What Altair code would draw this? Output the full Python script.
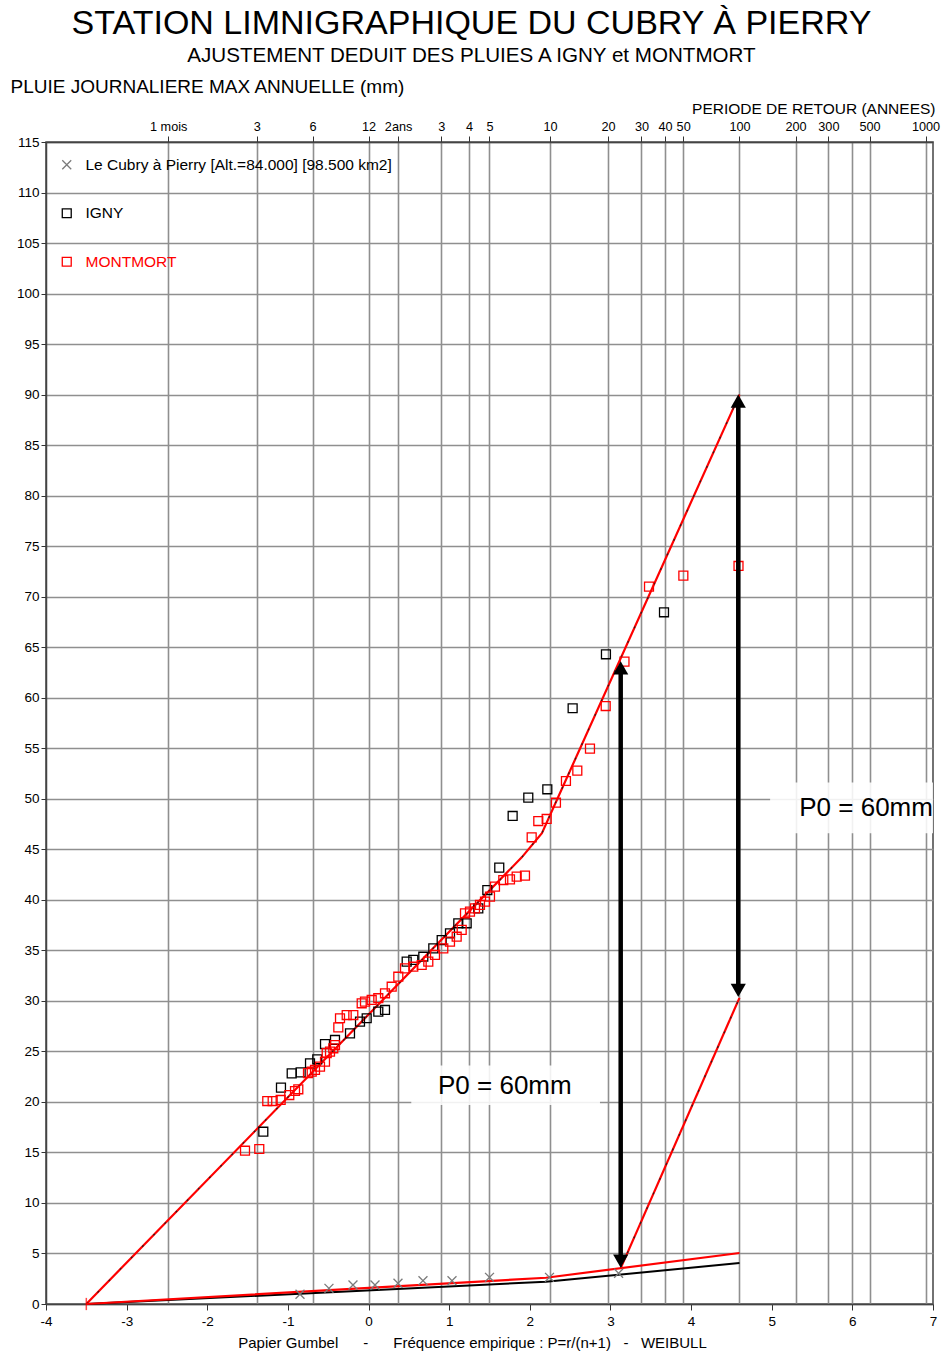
import math
import altair as alt
import pandas as pd

FONT = "Liberation Sans"
NB = "\u00a0"

TITLE = "STATION LIMNIGRAPHIQUE DU CUBRY À PIERRY"
SUBTITLE = "AJUSTEMENT DEDUIT DES PLUIES A IGNY et MONTMORT"
Y_TITLE = "PLUIE JOURNALIERE MAX ANNUELLE (mm)"
TOP_TITLE = "PERIODE DE RETOUR (ANNEES)"
X_TITLE = ("Papier Gumbel" + NB * 6 + "-" + NB * 6 + "Fréquence empirique : P=r/(n+1)"
           + NB * 3 + "-" + NB * 3 + "WEIBULL")

CUBRY = "Le Cubry à Pierry [Alt.=84.000] [98.500 km2]"
IGNY = "IGNY"
MONTMORT = "MONTMORT"

# axis ticks
y_ticks = list(range(0, 120, 5))
x_ticks = list(range(-4, 8))
month_periods = [1, 3, 6, 12]
month_labels = ["1 mois", "3", "6", "12"]
year_periods = [2, 3, 4, 5, 10, 20, 30, 40, 50, 100, 200, 300, 400, 500, 1000]
year_labels = ["2ans", "3", "4", "5", "10", "20", "30", "40", "50", "100", "200", "300", "", "500", "1000"]

# observed points (Gumbel reduced variate u, rainfall mm)
cubry_u = [-0.850, -0.491, -0.193, 0.080, 0.365, 0.675, 1.035, 1.500, 2.244, 3.101]
cubry_p = [0.96, 1.55, 1.88, 1.88, 2.05, 2.31, 2.31, 2.64, 2.64, 3.04]

igny_u = [-1.305, -1.086, -0.953, -0.842, -0.726, -0.636, -0.540, -0.416, -0.230, -0.106,
          -0.023, 0.121, 0.204, 0.473, 0.555, 0.679, 0.803, 0.907, 1.010, 1.113,
          1.217, 1.361, 1.473, 1.621, 1.787, 1.981, 2.217, 2.531, 2.944, 3.664]
igny_p = [17.05, 21.41, 22.83, 22.93, 23.82, 24.22, 25.73, 26.13, 26.79, 27.94,
          28.28, 28.93, 29.10, 33.88, 34.05, 34.37, 35.20, 36.02, 36.69, 37.68,
          37.68, 39.16, 40.97, 43.18, 48.30, 50.11, 50.94, 58.96, 64.30, 68.46]

montmort_u = [-1.532, -1.355, -1.256, -1.189, -1.090, -0.983, -0.912, -0.871, -0.751, -0.705,
              -0.664, -0.602, -0.540, -0.519, -0.478, -0.437, -0.416, -0.375, -0.354, -0.271,
              -0.189, -0.085, -0.044, 0.039, 0.121, 0.204, 0.287, 0.369, 0.452, 0.555,
              0.659, 0.741, 0.824, 0.927, 1.010, 1.093, 1.155, 1.196, 1.258, 1.320,
              1.382, 1.444, 1.506, 1.568, 1.671, 1.754, 1.837, 1.940, 2.023, 2.105,
              2.209, 2.324, 2.448, 2.589, 2.746, 2.941, 3.174, 3.478, 3.904, 4.588]
montmort_p = [15.17, 15.34, 20.09, 20.09, 20.19, 20.68, 21.08, 21.25, 22.86, 22.99,
              23.16, 23.49, 23.98, 24.84, 24.97, 25.31, 25.63, 27.38, 28.28, 28.60,
              28.60, 29.76, 29.92, 30.09, 30.26, 30.75, 31.40, 32.39, 33.22, 33.38,
              33.55, 33.88, 34.54, 35.20, 35.86, 36.35, 37.02, 38.67, 38.83, 39.16,
              39.49, 39.82, 40.31, 41.30, 41.96, 42.03, 42.29, 42.39, 46.19, 47.80,
              48.00, 49.61, 51.76, 52.78, 54.96, 59.18, 63.57, 70.99, 72.08, 73.04]

# fitted lines
fit_u = [-3.5, 1.9, 2.15, 4.6]
fit_p = [0.0, 44.2, 46.6, 90.0]
gradex_u = [3.13, 4.6]
gradex_p = [3.6, 30.3]
flow_red_u = [-3.5, 2.2, 4.6]
flow_red_p = [0.0, 2.6, 5.05]
flow_black_u = [-3.5, 2.2, 4.6]
flow_black_p = [0.0, 2.2, 4.05]
start_u = [-3.5]
start_p = [0.0]

# annotations
arrow_u = [3.127, 4.585]
arrow_lo = [3.6, 30.4]
arrow_hi = [63.6, 90.0]
p0_u = [1.69, 6.17]
p0_p = [21.6, 49.1]
p0_text = ["P0 = 60mm", "P0 = 60mm"]
box_u1 = [0.53, 4.98]
box_u2 = [2.87, 7.0]
box_p1 = [19.7, 46.6]
box_p2 = [23.6, 51.6]

GRID = "#8f8f8f"

# return-period positions on the Gumbel axis
rp_u = [math.log(m / 12.0) for m in month_periods] + \
       [-math.log(-math.log(1.0 - 1.0 / T)) for T in year_periods]
rp_labels = month_labels + year_labels
label_expr = "''"
for u, lab in reversed(list(zip(rp_u, rp_labels))):
    label_expr = f"abs(datum.value - ({u:.5f})) < 0.002 ? '{lab}' : ({label_expr})"
unlabeled = [u for u, lab in zip(rp_u, rp_labels) if lab == ""]
tick_test = " || ".join(f"abs(datum.value - ({u:.5f})) < 0.002" for u in unlabeled)

X_SCALE = alt.Scale(domain=[-4, 7], nice=False, zero=False)
Y_SCALE = alt.Scale(domain=[0, 115], nice=False, zero=False)

y_axis = alt.Axis(values=y_ticks, grid=True, gridColor=GRID, gridWidth=1.6,
                  tickSize=5, labelPadding=2, labelFontSize=13.5, labelFlush=False,
                  labelOverlap=False, title=Y_TITLE, titleAngle=0, titleAlign="left",
                  titleBaseline="middle", titleX=-36, titleY=-56, titleFontSize=19,
                  titleFontWeight="normal")
x_bottom = alt.Axis(orient="bottom", values=x_ticks, grid=False, tickSize=6,
                    labelPadding=4, labelFontSize=13.5, labelFlush=False,
                    labelOverlap=False, labelExpr="toString(datum.value)",
                    title=X_TITLE, titleFontSize=15, titleFontWeight="normal",
                    titleX=426, titleY=38, titleAlign="center", titleBaseline="middle")
x_top = alt.Axis(orient="top", values=rp_u, labelExpr=label_expr, grid=True,
                 gridColor=GRID, gridWidth=1.6, tickSize=6, labelPadding=3,
                 labelFontSize=12.7, labelOverlap=False, labelFlush=False, labelBound=False,
                 tickOpacity={"condition": {"test": tick_test, "value": 0}, "value": 1},
                 title=TOP_TITLE, titleX=889, titleY=-34, titleAlign="right",
                 titleBaseline="middle", titleFontSize=15.5, titleFontWeight="normal")


def frame(u, p):
    return pd.DataFrame({"u": u, "p": p})


pts = pd.concat([
    pd.DataFrame({"u": cubry_u, "p": cubry_p, "serie": CUBRY}),
    pd.DataFrame({"u": igny_u, "p": igny_p, "serie": IGNY}),
    pd.DataFrame({"u": montmort_u, "p": montmort_p, "serie": MONTMORT}),
], ignore_index=True)

X_SHAPE = "M-1,-1L1,1M-1,1L1,-1"

boxes = alt.Chart(pd.DataFrame({"u1": box_u1, "u2": box_u2, "p1": box_p1, "p2": box_p2})).mark_rect(
    color="white", opacity=0.88).encode(
    x=alt.X("u1:Q", scale=X_SCALE, axis=None), x2="u2:Q",
    y=alt.Y("p1:Q", scale=Y_SCALE, axis=y_axis), y2="p2:Q")

fit_red = alt.Chart(frame(fit_u, fit_p)).mark_line(color="#ff0000", strokeWidth=2.2).encode(
    x=alt.X("u:Q", scale=X_SCALE, axis=x_top), y=alt.Y("p:Q", scale=Y_SCALE, axis=y_axis))
fit_black = alt.Chart(frame(fit_u, fit_p)).mark_line(color="#222", strokeWidth=1.2,
                                                     strokeDash=[2, 14]).encode(
    x=alt.X("u:Q", scale=X_SCALE, axis=None), y=alt.Y("p:Q", scale=Y_SCALE, axis=y_axis))
gradex = alt.Chart(frame(gradex_u, gradex_p)).mark_line(color="#ff0000", strokeWidth=2.2).encode(
    x=alt.X("u:Q", scale=X_SCALE, axis=None), y=alt.Y("p:Q", scale=Y_SCALE, axis=y_axis))
gradex_b = alt.Chart(frame(gradex_u, gradex_p)).mark_line(color="#222", strokeWidth=1.2,
                                                         strokeDash=[2, 14]).encode(
    x=alt.X("u:Q", scale=X_SCALE, axis=None), y=alt.Y("p:Q", scale=Y_SCALE, axis=y_axis))
flow_black = alt.Chart(frame(flow_black_u, flow_black_p)).mark_line(color="#000", strokeWidth=2).encode(
    x=alt.X("u:Q", scale=X_SCALE, axis=None), y=alt.Y("p:Q", scale=Y_SCALE, axis=y_axis))
flow_red = alt.Chart(frame(flow_red_u, flow_red_p)).mark_line(color="#ff0000", strokeWidth=2.2).encode(
    x=alt.X("u:Q", scale=X_SCALE, axis=None), y=alt.Y("p:Q", scale=Y_SCALE, axis=y_axis))
start = alt.Chart(frame(start_u, start_p)).mark_point(
    shape="M0,-1L0,1", color="#ff0000", strokeWidth=1.5, size=150, filled=False).encode(
    x=alt.X("u:Q", scale=X_SCALE, axis=None), y=alt.Y("p:Q", scale=Y_SCALE, axis=y_axis))

points = alt.Chart(pts).mark_point(filled=False, size=80, strokeWidth=1.3, opacity=1).encode(
    x=alt.X("u:Q", scale=X_SCALE, axis=x_bottom),
    y=alt.Y("p:Q", scale=Y_SCALE, axis=y_axis),
    color=alt.Color("serie:N", scale=alt.Scale(domain=[CUBRY, IGNY, MONTMORT],
                                               range=["#7a7a7a", "#000000", "#ff0000"]),
                    legend=alt.Legend(orient="none", legendX=13, legendY=15, title=None,
                                      labelFont=FONT, labelFontSize=15.5, labelLimit=0,
                                      labelColor={"expr": "datum.label == 'MONTMORT' ? '#ff0000' : '#000000'"},
                                      symbolSize=80, symbolStrokeWidth=1.3, rowPadding=31.5,
                                      labelOffset=11, padding=0, direction="vertical")),
    shape=alt.Shape("serie:N", scale=alt.Scale(domain=[CUBRY, IGNY, MONTMORT],
                                               range=[X_SHAPE, "square", "square"])),
)

arrow_df = pd.DataFrame({"u": arrow_u, "lo": arrow_lo, "hi": arrow_hi})
shafts = alt.Chart(arrow_df).mark_rule(color="#000", strokeWidth=4.5, yOffset=-8, y2Offset=8).encode(
    x=alt.X("u:Q", scale=X_SCALE, axis=None),
    y=alt.Y("lo:Q", scale=Y_SCALE, axis=y_axis), y2="hi:Q")
heads_up = alt.Chart(arrow_df).mark_point(shape="triangle-up", filled=True, color="#000",
                                          size=230, opacity=1, yOffset=6.5).encode(
    x=alt.X("u:Q", scale=X_SCALE, axis=None), y=alt.Y("hi:Q", scale=Y_SCALE, axis=y_axis))
heads_down = alt.Chart(arrow_df).mark_point(shape="triangle-down", filled=True, color="#000",
                                            size=230, opacity=1, yOffset=-6.5).encode(
    x=alt.X("u:Q", scale=X_SCALE, axis=None), y=alt.Y("lo:Q", scale=Y_SCALE, axis=y_axis))

texts = alt.Chart(pd.DataFrame({"u": p0_u, "p": p0_p, "t": p0_text})).mark_text(
    font=FONT, fontSize=26, color="#000", align="center", baseline="middle").encode(
    x=alt.X("u:Q", scale=X_SCALE, axis=None), y=alt.Y("p:Q", scale=Y_SCALE, axis=y_axis),
    text="t:N")

chart = alt.layer(
    boxes, fit_red, fit_black, gradex, gradex_b, flow_black, flow_red, start,
    points, shafts, heads_up, heads_down, texts
).resolve_axis(x="independent").resolve_scale(x="shared").properties(
    width=887, height=1162,
    autosize=alt.AutoSizeParams(type="none"),
    padding={"left": 46, "top": 142, "right": 9, "bottom": 48},
    title=alt.Title(TITLE, subtitle=SUBTITLE, font=FONT, fontSize=34, fontWeight="normal",
                    color="#000", subtitleFont=FONT, subtitleFontSize=20.6,
                    subtitleColor="#000", anchor="middle", dx=-18, offset=10,
                    subtitlePadding=5),
).configure(background="white").configure_view(
    stroke="#444", strokeWidth=1.5
).configure_axis(
    labelFont=FONT, titleFont=FONT, labelColor="#000", titleColor="#000",
    tickColor="#333", domainColor="#444", domainWidth=1.5
)

chart.save("out.html", embed_options={"renderer": "svg", "actions": False})
